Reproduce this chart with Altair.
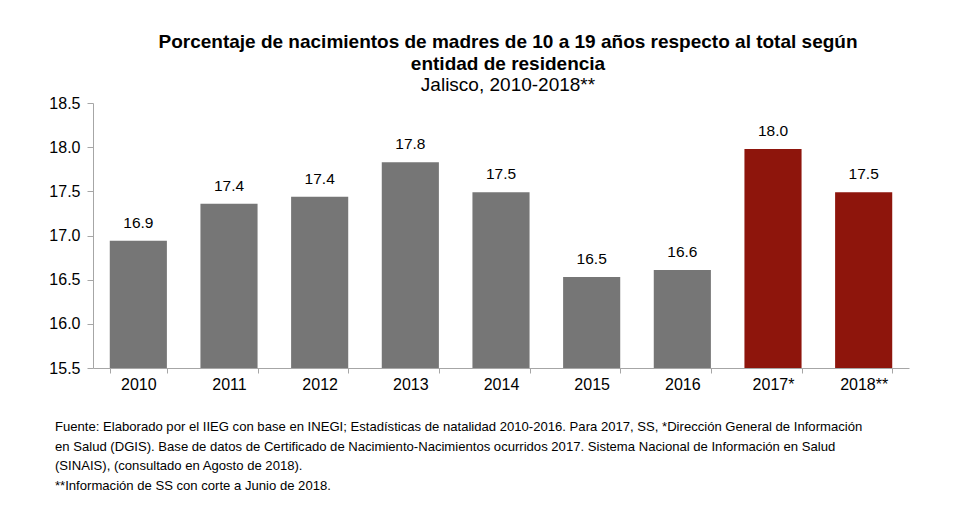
import altair as alt
import pandas as pd

years = ["2010", "2011", "2012", "2013", "2014", "2015", "2016", "2017*", "2018**"]
values = [16.94, 17.36, 17.44, 17.83, 17.49, 16.53, 16.61, 17.98, 17.49]
groups = ["INEGI"] * 7 + ["SS"] * 2

title_lines = ["Porcentaje de nacimientos de madres de 10 a 19 años respecto al total según",
               "entidad de residencia"]
subtitle = "Jalisco, 2010-2018**"
footnote = ("Fuente: Elaborado por el IIEG con base en INEGI; Estadísticas de natalidad 2010-2016.  Para 2017, SS, *Dirección General de Información\n"
            "en Salud (DGIS). Base de datos de Certificado de Nacimiento-Nacimientos ocurridos 2017. Sistema Nacional de Información en Salud\n"
            "(SINAIS), (consultado en Agosto de 2018).\n"
            "**Información de SS con corte a Junio de 2018.")

df = pd.DataFrame({"year": years, "value": values, "group": groups})

W, H = 816, 265
FONT = "Liberation Sans"

base = alt.Chart(df).encode(
    x=alt.X("year:N", sort=years, title=None,
            scale=alt.Scale(paddingInner=0.37, paddingOuter=0.185),
            axis=alt.Axis(labelAngle=0, tickBand="extent", domainColor="#a6a6a6",
                          tickColor="#a6a6a6", tickSize=5, labelPadding=3,
                          labelFont=FONT, labelFontSize=16, labelColor="#000000")),
)

bars = base.mark_bar().encode(
    y=alt.Y("value:Q", title=None,
            scale=alt.Scale(domain=[15.5, 18.5], zero=False, nice=False),
            axis=alt.Axis(values=[15.5, 16.0, 16.5, 17.0, 17.5, 18.0, 18.5], format=".1f",
                          grid=False, domainColor="#a6a6a6", tickColor="#a6a6a6",
                          tickSize=6, labelPadding=7, labelFont=FONT, labelFontSize=16,
                          labelColor="#000000")),
    y2=alt.datum(15.5),
    color=alt.Color("group:N", scale=alt.Scale(domain=["INEGI", "SS"], range=["#767676", "#8e150c"]),
                    legend=None),
)

labels = base.mark_text(baseline="bottom", dy=-10, font=FONT, fontSize=15.5, color="#000000").encode(
    y=alt.Y("value:Q"),
    text=alt.Text("value:Q", format=".1f"),
)

foot = alt.Chart(pd.DataFrame({"t": [footnote]})).mark_text(
    align="left", baseline="top", lineBreak="\n", lineHeight=19.5,
    font=FONT, fontSize=13.1, color="#000000"
).encode(x=alt.value(-38), y=alt.value(318), text="t:N")

chart = alt.layer(bars, labels, foot).properties(
    width=W, height=H,
    autosize=alt.AutoSizeParams(type="none"),
    padding={"left": 85, "top": 95, "right": 50, "bottom": 130},
    title=alt.TitleParams(text=title_lines, subtitle=subtitle, font=FONT, fontSize=19,
                          fontWeight="bold", subtitleFont=FONT, subtitleFontSize=19,
                          subtitleColor="#000000", color="#000000", lineHeight=22,
                          subtitleLineHeight=22, subtitlePadding=2, offset=0, dx=7),
).configure_view(stroke=None)

chart.save("out.html", embed_options={"renderer": "svg", "actions": False})
